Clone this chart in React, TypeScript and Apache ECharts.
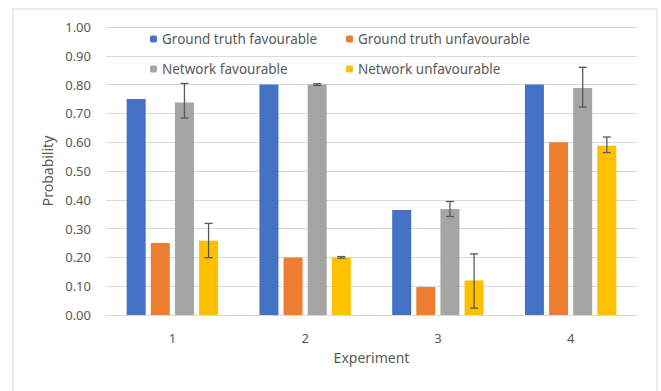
import React, { useEffect, useRef } from "react";
import * as echarts from "echarts";

const categories = ["1", "2", "3", "4"];
const seriesNames = [
  "Ground truth favourable",
  "Ground truth unfavourable",
  "Network favourable",
  "Network unfavourable",
];
const gtFavourable = [0.75, 0.8, 0.365, 0.8];
const gtUnfavourable = [0.25, 0.2, 0.097, 0.6];
const netFavourable = [0.738, 0.8, 0.368, 0.788];
const netUnfavourable = [0.258, 0.2, 0.12, 0.588];
const netFavLow = [0.684, 0.797, 0.342, 0.722];
const netFavHigh = [0.804, 0.803, 0.394, 0.86];
const netUnfavLow = [0.199, 0.197, 0.024, 0.564];
const netUnfavHigh = [0.318, 0.203, 0.212, 0.618];
const colors = ["#4472C4", "#ED7D31", "#A5A5A5", "#FFC000"];

const BAR_W = 19;
const BAR_GAP = 0.27;

export default function App() {
  const ref = useRef<HTMLDivElement>(null);
  useEffect(() => {
    if (!ref.current) return;
    const chart = echarts.init(ref.current, null, { renderer: "svg" });
    const values = [gtFavourable, gtUnfavourable, netFavourable, netUnfavourable];
    const errData: any[] = [];
    categories.forEach((_, i) => {
      errData.push([i, netFavLow[i], netFavHigh[i], 2]);
      errData.push([i, netUnfavLow[i], netUnfavHigh[i], 3]);
    });
    const step = BAR_W * (1 + BAR_GAP);
    const font = "'Noto Sans', sans-serif";
    const txt = "#595959";
    chart.setOption({
      animation: false,
      color: colors,
      textStyle: { fontFamily: font },
      graphic: [
        {
          type: "rect",
          shape: { x: 13, y: 9, width: 644, height: 400 },
          style: { fill: "none", stroke: "#d9d9d9", lineWidth: 1 },
          silent: true,
        },
      ],
      legend: [
        {
          data: [seriesNames[0], seriesNames[2]],
          orient: "vertical",
          left: 145,
          top: 27,
          itemWidth: 7,
          itemHeight: 7,
          itemGap: 16,
          textStyle: { color: txt, fontSize: 13.5, lineHeight: 14, fontFamily: font },
        },
        {
          data: [seriesNames[1], seriesNames[3]],
          orient: "vertical",
          left: 341,
          top: 27,
          itemWidth: 7,
          itemHeight: 7,
          itemGap: 16,
          textStyle: { color: txt, fontSize: 13.5, lineHeight: 14, fontFamily: font },
        },
      ],
      grid: { left: 106, right: 24, top: 27, bottom: 76, containLabel: false },
      xAxis: {
        type: "category",
        data: categories,
        name: "Experiment",
        nameLocation: "middle",
        nameGap: 35,
        nameTextStyle: { color: txt, fontSize: 14, fontFamily: font },
        axisLine: { lineStyle: { color: "#d9d9d9" } },
        axisTick: { show: false },
        axisLabel: { color: txt, fontSize: 13, margin: 16, fontFamily: font },
      },
      yAxis: {
        type: "value",
        min: 0,
        max: 1,
        interval: 0.1,
        name: "Probability",
        nameLocation: "middle",
        nameGap: 52,
        nameTextStyle: { color: txt, fontSize: 14, fontFamily: font },
        axisLine: { show: false },
        axisTick: { show: false },
        axisLabel: {
          color: txt,
          fontSize: 13,
          margin: 15,
          fontFamily: font,
          formatter: (v: number) => v.toFixed(2),
        },
        splitLine: { lineStyle: { color: "#d9d9d9" } },
      },
      series: [
        ...values.map((vals, i) => ({
          name: seriesNames[i],
          type: "bar",
          data: vals,
          barWidth: BAR_W,
          barGap: `${BAR_GAP * 100}%`,
          itemStyle: { color: colors[i] },
        })),
        {
          type: "custom",
          data: errData,
          z: 10,
          renderItem: (params: any, api: any) => {
            const idx = api.value(0);
            const s = api.value(3);
            const lo = api.coord([idx, api.value(1)]);
            const hi = api.coord([idx, api.value(2)]);
            const x = lo[0] + (s - 1.5) * step;
            const style = { stroke: "#595959", lineWidth: 1.3 };
            return {
              type: "group",
              children: [
                { type: "line", shape: { x1: x, y1: lo[1], x2: x, y2: hi[1] }, style },
                { type: "line", shape: { x1: x - 4, y1: lo[1], x2: x + 4, y2: lo[1] }, style },
                { type: "line", shape: { x1: x - 4, y1: hi[1], x2: x + 4, y2: hi[1] }, style },
              ],
            };
          },
        },
      ],
    });
    return () => chart.dispose();
  }, []);
  return (
    <div
      ref={ref}
      style={{ position: "fixed", left: 0, top: 0, width: 661, height: 391, background: "#fff" }}
    />
  );
}
